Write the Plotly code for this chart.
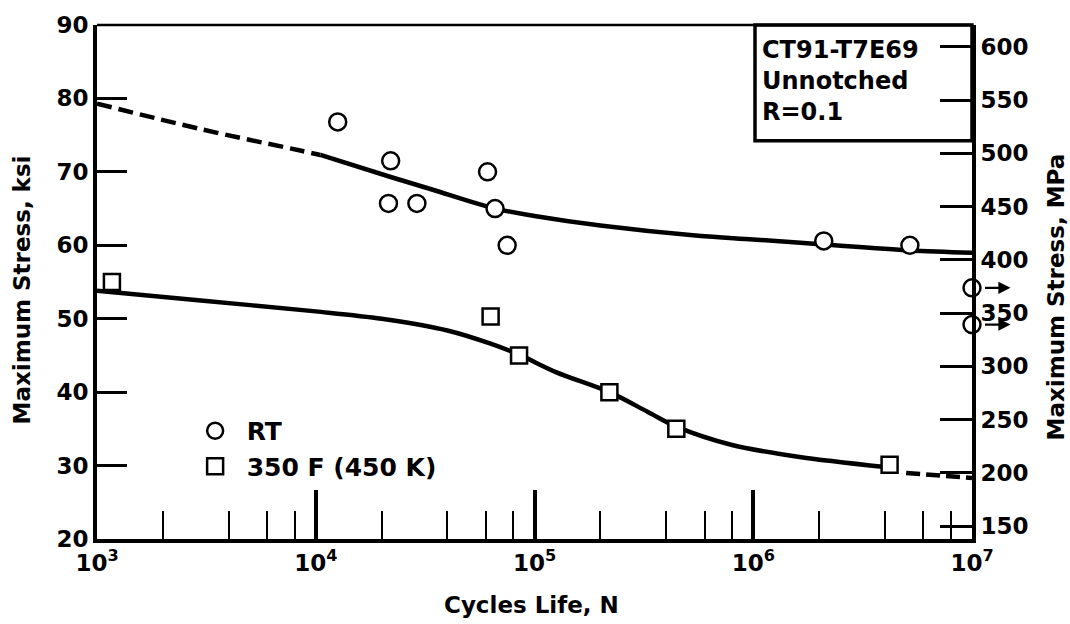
import plotly.graph_objects as go

# ---- data ----
rt_cycles = [1.26e4, 2.2e4, 2.15e4, 2.9e4, 6.1e4, 6.6e4, 7.5e4, 2.1e6, 5.2e6]
rt_ksi = [76.8, 71.5, 65.7, 65.7, 70.0, 65.0, 60.0, 60.6, 60.0]
rt_runout_cycles = [1.0e7, 1.0e7]
rt_runout_ksi = [54.2, 49.2]

hot_cycles = [1.17e3, 6.3e4, 8.5e4, 2.2e5, 4.45e5, 4.2e6]
hot_ksi = [55.0, 50.3, 45.0, 40.0, 35.0, 30.1]

rt_fit_dash_cycles = [1.0e3, 3.0e3, 8.5e3, 1.05e4]
rt_fit_dash_ksi = [79.3, 75.8, 72.9, 72.3]
rt_fit_cycles = [1.05e4, 2.2e4, 3.4e4, 6.6e4, 1.0e5, 2.0e5, 5.6e5, 1.0e6, 2.1e6, 5.2e6, 1.0e7]
rt_fit_ksi = [72.3, 69.3, 67.6, 65.0, 64.0, 62.7, 61.3, 60.8, 60.1, 59.3, 59.0]

hot_fit_cycles = [1.0e3, 2.9e3, 1.0e4, 2.0e4, 4.0e4, 6.3e4, 8.5e4, 1.26e5, 2.2e5, 3.3e5, 4.45e5, 8.0e5, 1.6e6, 4.0e6]
hot_fit_ksi = [53.8, 52.5, 51.0, 50.0, 48.4, 46.6, 45.1, 42.7, 40.0, 37.3, 35.3, 32.8, 31.2, 29.8]
hot_fit_dash_cycles = [5.0e6, 1.0e7]
hot_fit_dash_ksi = [29.0, 28.3]

ksi_ticks = [20, 30, 40, 50, 60, 70, 80, 90]
mpa_ticks = [150, 200, 250, 300, 350, 400, 450, 500, 550, 600]
x_major = [1e3, 1e4, 1e5, 1e6, 1e7]
x_major_text = ["10<sup>3</sup>", "10<sup>4</sup>", "10<sup>5</sup>", "10<sup>6</sup>", "10<sup>7</sup>"]
x_minor = [m * d for d in [1e3, 1e4, 1e5, 1e6] for m in (2, 4, 6, 8)]

KSI_TO_MPA = 6.895
ksi_range = [20, 90]

FONT = "DejaVu Sans"
BLACK = "#000000"

fig = go.Figure()

line_style = dict(color=BLACK, width=4.5, shape="spline", smoothing=0.9)

fig.add_trace(go.Scatter(x=rt_fit_dash_cycles, y=rt_fit_dash_ksi, mode="lines",
                         line=dict(line_style, dash="15px,7px"), showlegend=False, hoverinfo="skip"))
fig.add_trace(go.Scatter(x=rt_fit_cycles, y=rt_fit_ksi, mode="lines",
                         line=line_style, showlegend=False, hoverinfo="skip"))
fig.add_trace(go.Scatter(x=hot_fit_cycles, y=hot_fit_ksi, mode="lines",
                         line=line_style, showlegend=False, hoverinfo="skip"))
fig.add_trace(go.Scatter(x=hot_fit_dash_cycles, y=hot_fit_dash_ksi, mode="lines",
                         line=dict(line_style, dash="14px,6px"), showlegend=False, hoverinfo="skip"))

circle = dict(symbol="circle", size=17, color="white", line=dict(color=BLACK, width=2.5))
square = dict(symbol="square", size=16, color="white", line=dict(color=BLACK, width=2.5))

fig.add_trace(go.Scatter(x=rt_cycles, y=rt_ksi, mode="markers", marker=circle, name="RT"))
fig.add_trace(go.Scatter(x=hot_cycles, y=hot_ksi, mode="markers", marker=square,
                         name="350 F (450 K)", cliponaxis=False))
fig.add_trace(go.Scatter(x=rt_runout_cycles, y=rt_runout_ksi, mode="markers", marker=circle,
                         showlegend=False, cliponaxis=False))

# dummy trace to activate the MPa axis
fig.add_trace(go.Scatter(x=[1e3], y=[ksi_range[0] * KSI_TO_MPA], yaxis="y2", mode="markers",
                         marker=dict(opacity=0), showlegend=False, hoverinfo="skip"))

# runout arrows (head just right of the right axis, tail at the circle edge)
for yv in rt_runout_ksi:
    fig.add_annotation(x=1.044, y=yv, xref="paper", yref="y", ax=-27, ay=0,
                       text="", showarrow=True, arrowhead=2, arrowsize=1.1, arrowwidth=2.2,
                       arrowcolor=BLACK)

tick_font = dict(family=FONT, size=23, color=BLACK, weight="bold")
title_font = dict(family=FONT, size=23, color=BLACK, weight="bold")

fig.update_layout(
    width=1070, height=624,
    margin=dict(l=97, r=98, t=20, b=85),
    paper_bgcolor="white", plot_bgcolor="white",
    showlegend=True,
    legend=dict(x=0.099, y=0.255, xanchor="left", yanchor="top", bgcolor="rgba(0,0,0,0)",
                font=dict(family=FONT, size=25, color=BLACK, weight="bold"),
                itemwidth=53, tracegroupgap=0),
    xaxis=dict(type="log", range=[3, 7], tickvals=x_major, ticktext=x_major_text,
               ticks="inside", ticklen=49, tickwidth=3.5, tickcolor=BLACK,
               showline=True, linewidth=4, linecolor=BLACK, showgrid=False, zeroline=False,
               tickfont=tick_font,
               minor=dict(tickvals=x_minor, ticks="inside", ticklen=28, tickwidth=2,
                          tickcolor=BLACK, showgrid=False)),
    yaxis=dict(range=ksi_range, tickvals=ksi_ticks, ticks="inside", ticklen=30, tickwidth=2.5,
               tickcolor=BLACK, showline=True, linewidth=4, linecolor=BLACK, showgrid=False,
               zeroline=False, tickfont=tick_font),
    yaxis2=dict(range=[ksi_range[0] * KSI_TO_MPA, ksi_range[1] * KSI_TO_MPA], overlaying="y",
                side="right", tickvals=mpa_ticks, ticks="inside", ticklen=32, tickwidth=2.5,
                tickcolor=BLACK, showline=True, linewidth=4, linecolor=BLACK, showgrid=False,
                zeroline=False, tickfont=tick_font),
)

# top border
fig.add_shape(type="line", xref="paper", yref="paper", x0=0, x1=1, y0=1, y1=1,
              line=dict(color=BLACK, width=2.5))
# info box
fig.add_shape(type="rect", xref="paper", yref="paper", x0=0.752, x1=1.0, y0=0.7746, y1=1.0,
              line=dict(color=BLACK, width=3.5))
fig.add_annotation(xref="paper", yref="paper", x=0.758, y=0.892, xanchor="left", yanchor="middle",
                   align="left", showarrow=False,
                   text="CT91-T7E69<br>Unnotched<br>R=0.1",
                   font=dict(family=FONT, size=24, color=BLACK, weight="bold"))

# axis titles
fig.add_annotation(xref="paper", yref="paper", x=-0.0857, y=0.4836, textangle=-90,
                   text="Maximum Stress, ksi", showarrow=False, font=title_font,
                   xanchor="center", yanchor="middle")
fig.add_annotation(xref="paper", yref="paper", x=1.096, y=0.470, textangle=-90,
                   text="Maximum Stress, MPa", showarrow=False, font=title_font,
                   xanchor="center", yanchor="middle")
fig.add_annotation(xref="paper", yref="paper", x=0.497, y=-0.129,
                   text="Cycles Life, N", showarrow=False, font=title_font,
                   xanchor="center", yanchor="middle")

fig.write_html("out.html", config={"displayModeBar": False},
               post_script="document.body.style.margin='0';document.body.style.overflow='hidden';")
